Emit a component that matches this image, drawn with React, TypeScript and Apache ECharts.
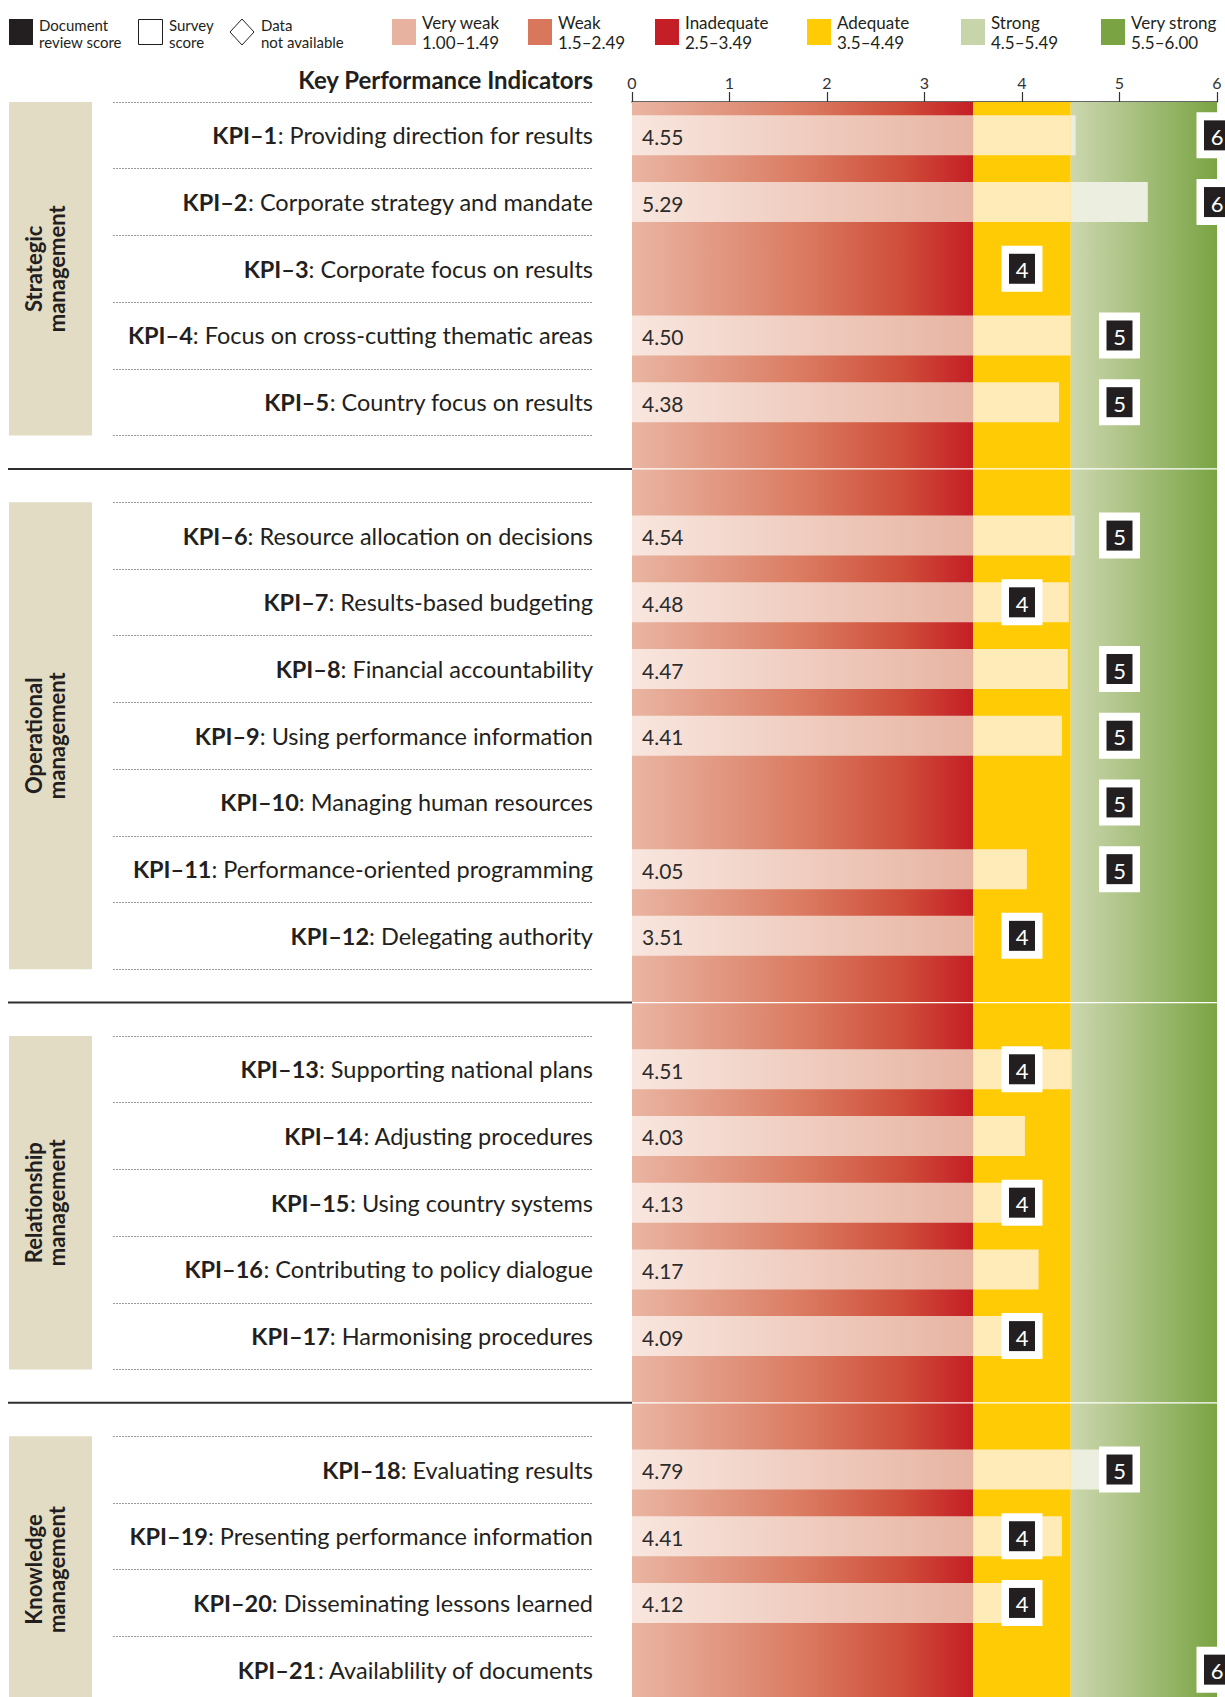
import React, { useEffect, useRef } from "react";
import * as echarts from "echarts";

// ---- Data ----
const kpiCodes = [
  "KPI–1", "KPI–2", "KPI–3", "KPI–4", "KPI–5", "KPI–6", "KPI–7", "KPI–8", "KPI–9", "KPI–10",
  "KPI–11", "KPI–12", "KPI–13", "KPI–14", "KPI–15", "KPI–16", "KPI–17", "KPI–18", "KPI–19",
  "KPI–20", "KPI–21",
];
const kpiNames = [
  "Providing direction for results",
  "Corporate strategy and mandate",
  "Corporate focus on results",
  "Focus on cross-cutting thematic areas",
  "Country focus on results",
  "Resource allocation on decisions",
  "Results-based budgeting",
  "Financial accountability",
  "Using performance information",
  "Managing human resources",
  "Performance-oriented programming",
  "Delegating authority",
  "Supporting national plans",
  "Adjusting procedures",
  "Using country systems",
  "Contributing to policy dialogue",
  "Harmonising procedures",
  "Evaluating results",
  "Presenting performance information",
  "Disseminating lessons learned",
  "Availablility of documents",
];
const kpiGroups = [0, 0, 0, 0, 0, 1, 1, 1, 1, 1, 1, 1, 2, 2, 2, 2, 2, 3, 3, 3, 3];
const groupNames = [
  "Strategic\nmanagement",
  "Operational\nmanagement",
  "Relationship\nmanagement",
  "Knowledge\nmanagement",
];
const documentScores: (number | null)[] = [
  4.55, 5.29, null, 4.5, 4.38, 4.54, 4.48, 4.47, 4.41, null, 4.05, 3.51, 4.51, 4.03, 4.13,
  4.17, 4.09, 4.79, 4.41, 4.12, null,
];
const surveyScores: (number | null)[] = [
  6, 6, 4, 5, 5, 5, 4, 5, 5, 5, 5, 4, 4, null, 4, null, 4, 5, 4, 4, 6,
];
const scaleMin = 0;
const scaleMax = 6;
const scaleInterval = 1;
const bandEdges = [0, 3.5, 4.5, 6];
const ratingNames = ["Very weak", "Weak", "Inadequate", "Adequate", "Strong", "Very strong"];
const ratingRanges = ["1.00–1.49", "1.5–2.49", "2.5–3.49", "3.5–4.49", "4.5–5.49", "5.5–6.00"];
const ratingColors = ["#e8b2a0", "#d9775d", "#c41f26", "#ffcb05", "#c8d5ab", "#7aa443"];

// ---- Styles ----
const FONT = "Lato, 'Open Sans', sans-serif";
const INK = "#231f20";

const bandFills = () => [
  new echarts.graphic.LinearGradient(0, 0, 1, 0, [
    { offset: 0, color: "#e9b5a2" },
    { offset: 0.5, color: "#da7b61" },
    { offset: 0.8, color: "#cf4c39" },
    { offset: 1, color: "#c41e25" },
  ]),
  "#ffcb05",
  new echarts.graphic.LinearGradient(0, 0, 1, 0, [
    { offset: 0, color: "#ccd7af" },
    { offset: 1, color: "#7aa443" },
  ]),
];
const barFills = () => [
  new echarts.graphic.LinearGradient(0, 0, 1, 0, [
    { offset: 0, color: "#f8e6de" },
    { offset: 1, color: "#e7b4a2" },
  ]),
  "#ffebb8",
  "#eceedf",
];

// Rows of the category axis: one per KPI, with an empty row between groups
const rows: number[] = [];
kpiCodes.forEach((_, i) => {
  if (i > 0 && kpiGroups[i] !== kpiGroups[i - 1]) rows.push(-1);
  rows.push(i);
});
const rowKeys = rows.map((k, r) => (k < 0 ? `gap-${r}` : kpiCodes[k]));
const gapRows = rows.map((k, r) => (k < 0 ? r : -1)).filter((r) => r >= 0);

export default function App() {
  const ref = useRef<HTMLDivElement>(null);

  useEffect(() => {
    if (!ref.current) return;
    const chart = echarts.init(ref.current, null, { renderer: "svg" });

    const bandData = bandEdges.slice(0, -1).map((s, i) => [s, bandEdges[i + 1], 0]);
    const barData: number[][] = [];
    const markerData: number[][] = [];
    rows.forEach((k, r) => {
      if (k < 0) return;
      if (documentScores[k] != null) barData.push([documentScores[k] as number, r]);
      if (surveyScores[k] != null) markerData.push([surveyScores[k] as number, r]);
    });
    const groupData = groupNames.map((_, g) => {
      const first = rows.findIndex((k) => k >= 0 && kpiGroups[k] === g);
      let last = first;
      rows.forEach((k, r) => {
        if (k >= 0 && kpiGroups[k] === g) last = r;
      });
      return [0, first, last];
    });

    const fillsBand = bandFills();
    const fillsBar = barFills();

    const hiddenY = (gridIndex: number, split: boolean) => ({
      gridIndex,
      type: "category",
      inverse: true,
      data: rowKeys,
      axisLine: { show: false },
      axisTick: { show: false },
      axisLabel: { show: false },
      splitLine: split
        ? { show: true, interval: 0, lineStyle: { color: "#9a9a9a", type: [2, 1], width: 1 } }
        : { show: false },
    });

    // Legend drawn as graphic elements
    const legend: any[] = [
      { type: "rect", shape: { x: 9, y: 19, width: 24, height: 26 }, style: { fill: INK } },
      {
        type: "text",
        x: 39,
        y: 33.5,
        style: { text: "Document\nreview score", fill: INK, fontSize: 15, lineHeight: 17, fontFamily: FONT, align: "left", verticalAlign: "middle" },
      },
      { type: "rect", shape: { x: 138.5, y: 19.5, width: 24, height: 25 }, style: { fill: "#fff", stroke: INK, lineWidth: 1 } },
      {
        type: "text",
        x: 169,
        y: 33.5,
        style: { text: "Survey\nscore", fill: INK, fontSize: 15, lineHeight: 17, fontFamily: FONT, align: "left", verticalAlign: "middle" },
      },
      {
        type: "polygon",
        shape: { points: [[242, 19], [254, 32], [242, 45], [230, 32]] },
        style: { fill: "#fff", stroke: INK, lineWidth: 1 },
      },
      {
        type: "text",
        x: 261,
        y: 33.5,
        style: { text: "Data\nnot available", fill: INK, fontSize: 15, lineHeight: 17, fontFamily: FONT, align: "left", verticalAlign: "middle" },
      },
    ];
    const swatchX = [392, 528, 655, 807, 961, 1101];
    ratingNames.forEach((name, i) => {
      legend.push({
        type: "rect",
        shape: { x: swatchX[i], y: 19, width: 24, height: 26 },
        style: { fill: ratingColors[i] },
      });
      legend.push({
        type: "text",
        x: swatchX[i] + 30,
        y: 32.5,
        style: {
          text: `${name}\n${ratingRanges[i]}`,
          fill: INK,
          fontSize: 17,
          lineHeight: 19.5,
          fontFamily: FONT,
          align: "left",
          verticalAlign: "middle",
        },
      });
    });
    legend.push({
      type: "text",
      x: 593,
      y: 79,
      style: {
        text: "Key Performance Indicators",
        fill: INK,
        fontSize: 24,
        fontWeight: "bold",
        fontFamily: FONT,
        align: "right",
        verticalAlign: "middle",
      },
    });

    const option: any = {
      animation: false,
      backgroundColor: "#ffffff",
      textStyle: { fontFamily: FONT },
      graphic: legend,
      grid: [
        { left: 632, top: 102, width: 585, height: 1601, outerBoundsMode: "none", containLabel: false },
        { left: 113, top: 102, width: 480, height: 1601, outerBoundsMode: "none", containLabel: false },
        { left: 9, top: 102, width: 83, height: 1601, outerBoundsMode: "none", containLabel: false },
      ],
      xAxis: [
        {
          gridIndex: 0,
          type: "value",
          position: "top",
          min: scaleMin,
          max: scaleMax,
          interval: scaleInterval,
          axisLine: { show: true, lineStyle: { color: "#333", width: 1.5 } },
          axisTick: { show: true, length: 10, lineStyle: { color: "#333", width: 1.2 } },
          axisLabel: { fontSize: 16, color: "#333", margin: 12, fontFamily: FONT },
          splitLine: { show: false },
        },
        { gridIndex: 1, type: "value", min: 0, max: 1, show: false },
        { gridIndex: 2, type: "value", min: 0, max: 1, show: false },
      ],
      yAxis: [
        {
          gridIndex: 0,
          type: "category",
          inverse: true,
          data: rowKeys,
          axisLine: { show: false },
          axisTick: { show: false },
          splitLine: { show: false },
          axisLabel: {
            interval: 0,
            margin: 39,
            fontSize: 23.5,
            fontFamily: FONT,
            color: INK,
            formatter: (_v: string, idx: number) => {
              const k = rows[idx];
              if (k == null || k < 0) return "";
              return `{b|${kpiCodes[k]}}{r|: ${kpiNames[k]}}`;
            },
            rich: {
              b: { fontSize: 23.5, fontWeight: "bold", fontFamily: FONT, color: INK },
              r: { fontSize: 23.5, fontFamily: FONT, color: INK },
            },
          },
        },
        hiddenY(1, true),
        hiddenY(2, false),
      ],
      series: [
        // Rating bands behind the bars
        {
          type: "custom",
          xAxisIndex: 0,
          yAxisIndex: 0,
          z: 1,
          silent: true,
          data: bandData,
          encode: { x: [0, 1], y: 2 },
          renderItem: (params: any, api: any) => {
            const p0 = api.coord([api.value(0), 0]);
            const p1 = api.coord([api.value(1), 0]);
            const cs = params.coordSys;
            return {
              type: "rect",
              shape: { x: p0[0], y: cs.y, width: p1[0] - p0[0], height: cs.height },
              style: { fill: fillsBand[params.dataIndex] },
            };
          },
        },
        // Document review score bars
        {
          type: "custom",
          xAxisIndex: 0,
          yAxisIndex: 0,
          z: 2,
          silent: true,
          data: barData,
          encode: { x: 0, y: 1 },
          renderItem: (params: any, api: any) => {
            const v = api.value(0);
            const r = api.value(1);
            const c0 = api.coord([scaleMin, r]);
            const h = api.size([0, 1])[1] * 0.6;
            const children: any[] = [];
            for (let z = 0; z < bandEdges.length - 1; z++) {
              if (v <= bandEdges[z]) break;
              const a = api.coord([bandEdges[z], r])[0];
              const b = api.coord([Math.min(v, bandEdges[z + 1]), r])[0];
              children.push({
                type: "rect",
                shape: { x: a, y: c0[1] - h / 2, width: b - a, height: h },
                style: { fill: fillsBar[z] },
              });
            }
            children.push({
              type: "text",
              x: c0[0] + 10,
              y: c0[1] + 1,
              style: {
                text: v.toFixed(2),
                fill: "#2b2b2b",
                fontSize: 21,
                fontFamily: FONT,
                align: "left",
                verticalAlign: "middle",
              },
            });
            return { type: "group", children };
          },
        },
        // Group separators across the gap rows
        {
          type: "custom",
          xAxisIndex: 0,
          yAxisIndex: 0,
          z: 3,
          silent: true,
          data: gapRows.map((r) => [scaleMin, r]),
          encode: { x: 0, y: 1 },
          renderItem: (params: any, api: any) => {
            const r = api.value(1);
            const p0 = api.coord([scaleMin, r]);
            const p1 = api.coord([scaleMax, r]);
            return {
              type: "group",
              children: [
                {
                  type: "line",
                  shape: { x1: 8, y1: p0[1], x2: p0[0], y2: p0[1] },
                  style: { stroke: "#2e2e2e", lineWidth: 2 },
                },
                {
                  type: "line",
                  shape: { x1: p0[0], y1: p0[1], x2: p1[0], y2: p1[1] },
                  style: { stroke: "#ffffff", lineWidth: 1.2 },
                },
              ],
            };
          },
        },
        // Survey score markers
        {
          type: "custom",
          xAxisIndex: 0,
          yAxisIndex: 0,
          z: 4,
          silent: true,
          data: markerData,
          encode: { x: 0, y: 1 },
          renderItem: (params: any, api: any) => {
            const v = api.value(0);
            const c = api.coord([v, api.value(1)]);
            return {
              type: "group",
              children: [
                { type: "rect", shape: { x: c[0] - 20.5, y: c[1] - 23, width: 41, height: 46 }, style: { fill: "#ffffff" } },
                { type: "rect", shape: { x: c[0] - 13, y: c[1] - 15, width: 26, height: 30 }, style: { fill: INK } },
                {
                  type: "text",
                  x: c[0],
                  y: c[1] + 1,
                  style: {
                    text: String(v),
                    fill: "#ffffff",
                    fontSize: 22,
                    fontFamily: FONT,
                    align: "center",
                    verticalAlign: "middle",
                  },
                },
              ],
            };
          },
        },
        // Group boxes on the far left
        {
          type: "custom",
          xAxisIndex: 2,
          yAxisIndex: 2,
          z: 1,
          silent: true,
          data: groupData,
          encode: { x: 0, y: [1, 2] },
          renderItem: (params: any, api: any) => {
            const band = api.size([0, 1])[1];
            const top = api.coord([0, api.value(1)])[1] - band / 2;
            const bottom = api.coord([0, api.value(2)])[1] + band / 2;
            const cs = params.coordSys;
            return {
              type: "group",
              children: [
                {
                  type: "rect",
                  shape: { x: cs.x, y: top, width: cs.width, height: bottom - top },
                  style: { fill: "#e3dcc4" },
                },
                {
                  type: "text",
                  x: cs.x + cs.width / 2 - 6,
                  y: (top + bottom) / 2,
                  rotation: Math.PI / 2,
                  style: {
                    text: groupNames[params.dataIndex],
                    fill: INK,
                    fontSize: 22,
                    fontWeight: "bold",
                    lineHeight: 23,
                    fontFamily: FONT,
                    align: "center",
                    verticalAlign: "middle",
                  },
                },
              ],
            };
          },
        },
      ],
    };

    chart.setOption(option);
    return () => chart.dispose();
  }, []);

  return (
    <div
      style={{
        position: "fixed",
        left: 0,
        top: 0,
        width: 1225,
        height: 1697,
        overflow: "hidden",
        background: "#fff",
      }}
    >
      <div ref={ref} style={{ width: 1225, height: 1710 }} />
    </div>
  );
}
